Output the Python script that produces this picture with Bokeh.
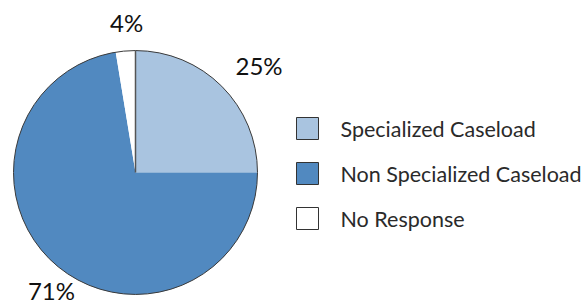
import numpy as np
from bokeh.plotting import figure
from bokeh.models import Range1d
from bokeh.core.properties import value
from bokeh.embed import file_html
from bokeh.resources import INLINE

# ---- data ----
categories = ["Specialized Caseload", "Non Specialized Caseload", "No Response"]
shares = [25.0, 72.4, 2.6]          # slice sizes as drawn
pct_labels = ["25%", "71%", "4%"]   # printed labels
colors = ["#a9c4e0", "#5189c0", "#ffffff"]

# ---- layout (pixel-like data units: x = screen x, y = 307 - screen y) ----
W, H = 585, 307
cx, cy, R = 135, 307 - 172, 122
label_gap = 28
label_nudge = [(17.5, 1.0), (13.0, -4.0), (3.3, 0.5)]
leg_x, leg_text_x, leg_top, leg_step, leg_size = 307, 340, 307 - 128, 45, 22

p = figure(width=W, height=H, x_range=Range1d(0, W), y_range=Range1d(0, H),
           output_backend="svg", toolbar_location=None, min_border=0,
           x_axis_location=None, y_axis_location=None)
p.grid.visible = False
p.outline_line_color = None
p.background_fill_color = "white"

fr = np.array(shares) / sum(shares)
cum = np.concatenate([[0.0], np.cumsum(fr)])
start = np.pi / 2 - 2 * np.pi * cum[:-1]
end = np.pi / 2 - 2 * np.pi * cum[1:]

p.wedge(x=cx, y=cy, radius=R, start_angle=start, end_angle=end, direction="clock",
        fill_color=colors, line_color=None)
p.circle(x=cx, y=cy, radius=R, fill_color=None, line_color="#3a3a3a", line_width=1)
p.segment(x0=cx, y0=cy, x1=cx + R * np.cos(start[0]), y1=cy + R * np.sin(start[0]),
          line_color="#555555", line_width=1.5)

mid = (start + end) / 2
lx = [cx + (R + label_gap) * np.cos(m) + d[0] for m, d in zip(mid, label_nudge)]
ly = [cy + (R + label_gap) * np.sin(m) + d[1] for m, d in zip(mid, label_nudge)]
p.text(x=lx, y=ly, text=pct_labels, text_font=value("Lato"), text_font_size="24px",
       text_align="center", text_baseline="middle", text_color="#111111")

ys = [leg_top - leg_step * i for i in range(len(categories))]
p.rect(x=leg_x, y=ys, width=leg_size, height=leg_size, fill_color=colors,
       line_color="#333333", line_width=1)
p.text(x=leg_text_x, y=ys, text=categories, text_font=value("Lato"), text_font_size="21.5px",
       text_align="left", text_baseline="middle", text_color="#2a2a2a")

open("out.html", "w").write(file_html(p, INLINE))
